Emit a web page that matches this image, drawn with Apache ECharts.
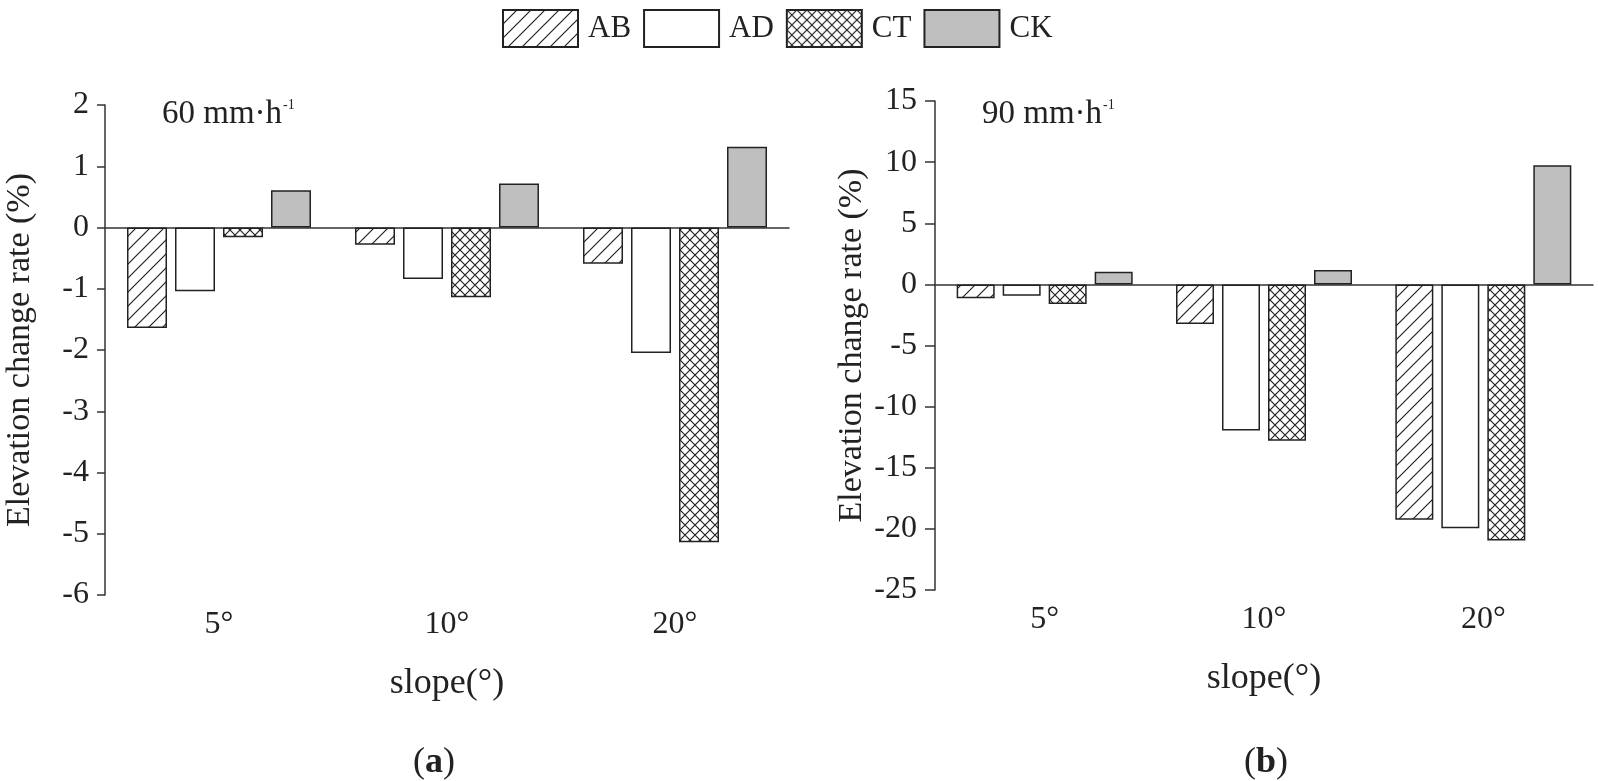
<!DOCTYPE html>
<html>
<head>
<meta charset="utf-8">
<script src="https://cdn.jsdelivr.net/npm/echarts@6/dist/echarts.min.js"></script>
<style>
html, body { margin: 0; padding: 0; background: #fff; }
#main { width: 1598px; height: 781px; }
</style>
</head>
<body>
<div id="main"></div>
<script>
// 坡度分类
var cats = ['5°', '10°', '20°'];
var names = ['AB', 'AD', 'CT', 'CK'];
// 60 mm/h
var ab60 = [-1.64, -0.28, -0.59];
var ad60 = [-1.04, -0.84, -2.05];
var ct60 = [-0.16, -1.14, -5.14];
var ck60 = [0.61, 0.72, 1.32];
// 90 mm/h
var ab90 = [-1.14, -3.24, -19.26];
var ad90 = [-0.93, -11.96, -19.94];
var ct90 = [-1.61, -12.8, -20.95];
var ck90 = [1.03, 1.17, 9.75];
// y轴刻度 [min, max, interval]
var yAxis60 = [-6, 2, 1];
var yAxis90 = [-25, 15, 5];

var FONT = '"Liberation Serif", "Times New Roman", serif';
var INK = '#222';
var AXIS = '#333';

// 填充图案
function makePattern(size, draw) {
    var c = document.createElement('canvas');
    c.width = size; c.height = size;
    var ctx = c.getContext('2d');
    ctx.fillStyle = '#fff';
    ctx.fillRect(0, 0, size, size);
    ctx.strokeStyle = INK;
    ctx.lineWidth = 1.2;
    ctx.beginPath();
    draw(ctx, size);
    ctx.stroke();
    return {image: c, repeat: 'repeat'};
}
var slash = makePattern(14, function (ctx, s) {
    ctx.moveTo(0, s); ctx.lineTo(s, 0);
    ctx.moveTo(-2, 2); ctx.lineTo(2, -2);
    ctx.moveTo(s - 2, s + 2); ctx.lineTo(s + 2, s - 2);
});
var cross = makePattern(10, function (ctx, s) {
    ctx.moveTo(0, s); ctx.lineTo(s, 0);
    ctx.moveTo(0, 0); ctx.lineTo(s, s);
});
var fills = [slash, '#fff', cross, '#bfbfbf'];

// 每个grid三条x轴：0线(上刻度+轴线)、0线(下刻度)、底部标签
function xAxes(g) {
    return [{
        gridIndex: g, type: 'category', data: cats, position: 'top',
        axisLine: {onZero: true, lineStyle: {color: AXIS, width: 1.5}},
        axisTick: {length: 15, lineStyle: {color: AXIS, width: 1.5}},
        axisLabel: {show: false}
    }, {
        gridIndex: g, type: 'category', data: cats, position: 'bottom',
        axisLine: {onZero: true, show: false},
        axisTick: {length: 15, lineStyle: {color: AXIS, width: 1.5}},
        axisLabel: {show: false}
    }, {
        gridIndex: g, type: 'category', data: cats, position: 'bottom',
        axisLine: {onZero: false, show: false},
        axisTick: {show: false},
        axisLabel: {interval: 0, margin: 14, fontFamily: FONT, fontSize: 32, color: INK},
        name: 'slope(°)', nameLocation: 'middle', nameGap: 71,
        nameTextStyle: {fontFamily: FONT, fontSize: 36, color: INK}
    }];
}

function yAxisOf(g, r, margin, tick, gap) {
    return {
        gridIndex: g, type: 'value', min: r[0], max: r[1], interval: r[2],
        axisLine: {show: true, lineStyle: {color: AXIS, width: 1.5}},
        axisTick: {show: true, length: tick, lineStyle: {color: AXIS, width: 1.5}},
        splitLine: {show: false},
        axisLabel: {fontFamily: FONT, fontSize: 32, color: INK, margin: margin},
        name: 'Elevation change rate (%)', nameLocation: 'middle', nameGap: gap,
        nameTextStyle: {fontFamily: FONT, fontSize: 34, color: INK}
    };
}

function barSeries(g, data, width) {
    return data.map(function (d, i) {
        return {
            name: names[i], type: 'bar', xAxisIndex: g * 3, yAxisIndex: g,
            data: d, barWidth: width, barGap: (8 / width * 100) + '%',
            itemStyle: {color: fills[i], borderColor: INK, borderWidth: 1.5},
            emphasis: {disabled: true}
        };
    });
}

function rateText(x, txt) {
    return {
        type: 'text', x: x, y: 96, style: {
            text: '{t|' + txt + ' mm·h}{s|-1}',
            rich: {
                t: {fontFamily: FONT, fontSize: 33, fill: INK, lineHeight: 36},
                s: {fontFamily: FONT, fontSize: 14, fill: INK, verticalAlign: 'top', padding: [2, 0, 0, 1]}
            }
        }
    };
}

function panelTag(x, letter) {
    return {
        type: 'text', x: x, y: 763, style: {
            text: '{n|(}{b|' + letter + '}{n|)}', align: 'center', verticalAlign: 'middle',
            rich: {
                n: {fontFamily: FONT, fontSize: 36, fill: INK},
                b: {fontFamily: FONT, fontSize: 36, fontWeight: 'bold', fill: INK}
            }
        }
    };
}

var option = {
    animation: false,
    backgroundColor: '#fff',
    legend: {
        data: names, top: 4, left: 497, icon: 'rect',
        itemWidth: 75, itemHeight: 37, itemGap: 12,
        textStyle: {fontFamily: FONT, fontSize: 31, color: INK, padding: [0, 0, 0, 5]}
    },
    grid: [
        {left: 105, top: 105, width: 684, height: 490},
        {left: 935, top: 101, width: 658, height: 489}
    ],
    xAxis: xAxes(0).concat(xAxes(1)),
    yAxis: [yAxisOf(0, yAxis60, 16, 8, 68), yAxisOf(1, yAxis90, 18, 10, 66)],
    graphic: [
        rateText(162, '60'),
        rateText(982, '90'),
        panelTag(434, 'a'),
        panelTag(1266, 'b')
    ],
    series: barSeries(0, [ab60, ad60, ct60, ck60], 40)
        .concat(barSeries(1, [ab90, ad90, ct90, ck90], 38))
};

var myChart = echarts.init(document.getElementById('main'));
myChart.setOption(option, true);
</script>
</body>
</html>
